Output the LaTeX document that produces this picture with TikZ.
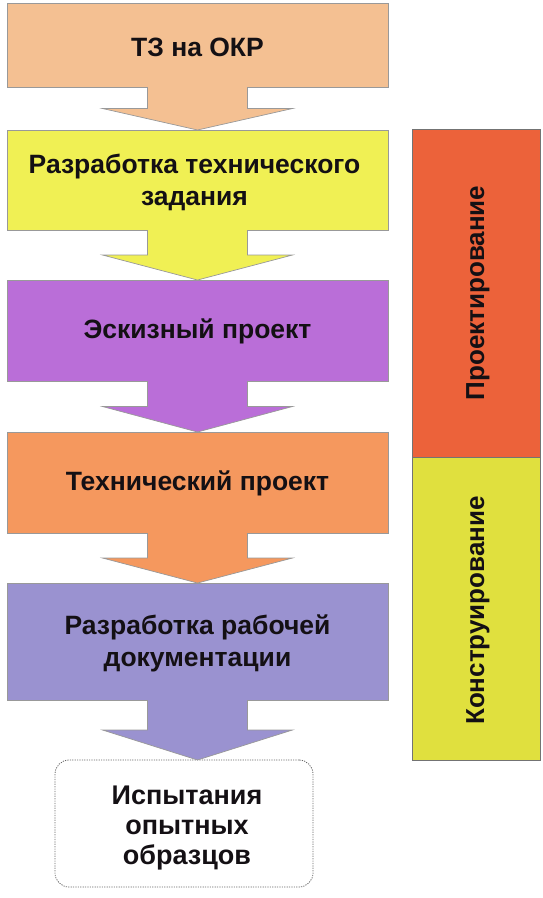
\documentclass[tikz,border=0pt]{standalone}
\usepackage{fontspec}
\setmainfont{Liberation Sans}
\usetikzlibrary{calc}
\definecolor{cPeach}{RGB}{244,192,146}
\definecolor{cYellow}{RGB}{240,240,84}
\definecolor{cPurple}{RGB}{186,110,216}
\definecolor{cOrange}{RGB}{245,152,94}
\definecolor{cBlue}{RGB}{154,146,208}
\definecolor{cRed}{RGB}{236,98,58}
\definecolor{cLime}{RGB}{224,224,62}
\definecolor{cText}{RGB}{20,16,20}
\tikzset{
  stagebox/.style={rectangle, draw=black!40, line width=0.7pt, outer sep=0pt, inner sep=0pt,
    minimum width=381pt, minimum height=#1, align=center, text=cText,
    font=\fontsize{26.5}{32}\selectfont\bfseries},
  sidebox/.style={rectangle, draw=black!55, line width=0.7pt, outer sep=0pt, inner sep=0pt,
    minimum width=128pt, minimum height=#1},
  sidetext/.style={rotate=90, text=cText, font=\fontsize{26}{30}\selectfont\bfseries},
  testbox/.style={rectangle, rounded corners=14pt, draw=black!60, line width=0.8pt,
    dash pattern=on 1.2pt off 1.2pt, outer sep=0pt, inner sep=0pt,
    minimum width=258pt, minimum height=127pt},
  testtext/.style={align=center, text=cText, font=\fontsize{27}{30}\selectfont\bfseries},
  arrowedge/.style={draw=black!40, line width=0.7pt, line join=miter}
}
\newcommand{\bArrow}[3]{%
  \path (#1.south) coordinate (as) ($(#1.south)!0.5!(#1.south |- #2.north)$) coordinate (am)
        (#1.south |- #2.north) coordinate (at);
  \fill[#3] ($(as)+(-50,0)$) -- ($(am)+(-50,0)$) -- ($(am)+(-95,0)$) -- (at)
        -- ($(am)+(95,0)$) -- ($(am)+(50,0)$) -- ($(as)+(50,0)$) -- cycle;
  \draw[arrowedge] ($(as)+(-50,0)$) -- ($(am)+(-50,0)$) -- ($(am)+(-95,0)$) -- (at)
        -- ($(am)+(95,0)$) -- ($(am)+(50,0)$) -- ($(as)+(50,0)$);
}
\begin{document}
\begin{tikzpicture}[x=1pt,y=-1pt]
\useasboundingbox (0,0) rectangle (542,898);
\node[stagebox=84pt, fill=cPeach] (tz) at (197.5,45) {};
\node[stagebox=100pt, fill=cYellow] (rtz) at (197.5,180) {};
\node[stagebox=101pt, fill=cPurple] (ep) at (197.5,330.5) {};
\node[stagebox=101pt, fill=cOrange] (tp) at (197.5,482.5) {};
\node[stagebox=117pt, fill=cBlue] (rd) at (197.5,641.5) {};
\node[testbox] (io) at (184,823.5) {};
\node[stagebox=0pt, draw=none, minimum width=0pt] (tzt) at ($(tz.center)+(0,2)$) {ТЗ на ОКР};
\node[stagebox=0pt, draw=none, minimum width=0pt] (rtzt) at ($(rtz.center)+(-3,2)$) {Разработка технического\\задания};
\node[stagebox=0pt, draw=none, minimum width=0pt] (ept) at ($(ep.center)+(0,1)$) {Эскизный проект};
\node[stagebox=0pt, draw=none, minimum width=0pt] (tpt) at ($(tp.center)+(0,1)$) {Технический проект};
\node[stagebox=0pt, draw=none, minimum width=0pt] (rdt) at ($(rd.center)+(0,2)$) {Разработка рабочей\\документации};
\node[testtext] (iot) at (187,828) {Испытания\\опытных\\образцов};
\bArrow{tz}{rtz}{cPeach}
\bArrow{rtz}{ep}{cYellow}
\bArrow{ep}{tp}{cPurple}
\bArrow{tp}{rd}{cOrange}
\bArrow{rd}{io}{cBlue}
\node[sidebox=328pt, fill=cRed] (pr) at (476,293) {};
\node[sidebox=303pt, fill=cLime] (kn) at (476,608.5) {};
\node[sidetext] (prt) at ($(pr.center)+(2,0)$) {Проектирование};
\node[sidetext] (knt) at ($(kn.center)+(2,2)$) {Конструирование};
\end{tikzpicture}
\end{document}
